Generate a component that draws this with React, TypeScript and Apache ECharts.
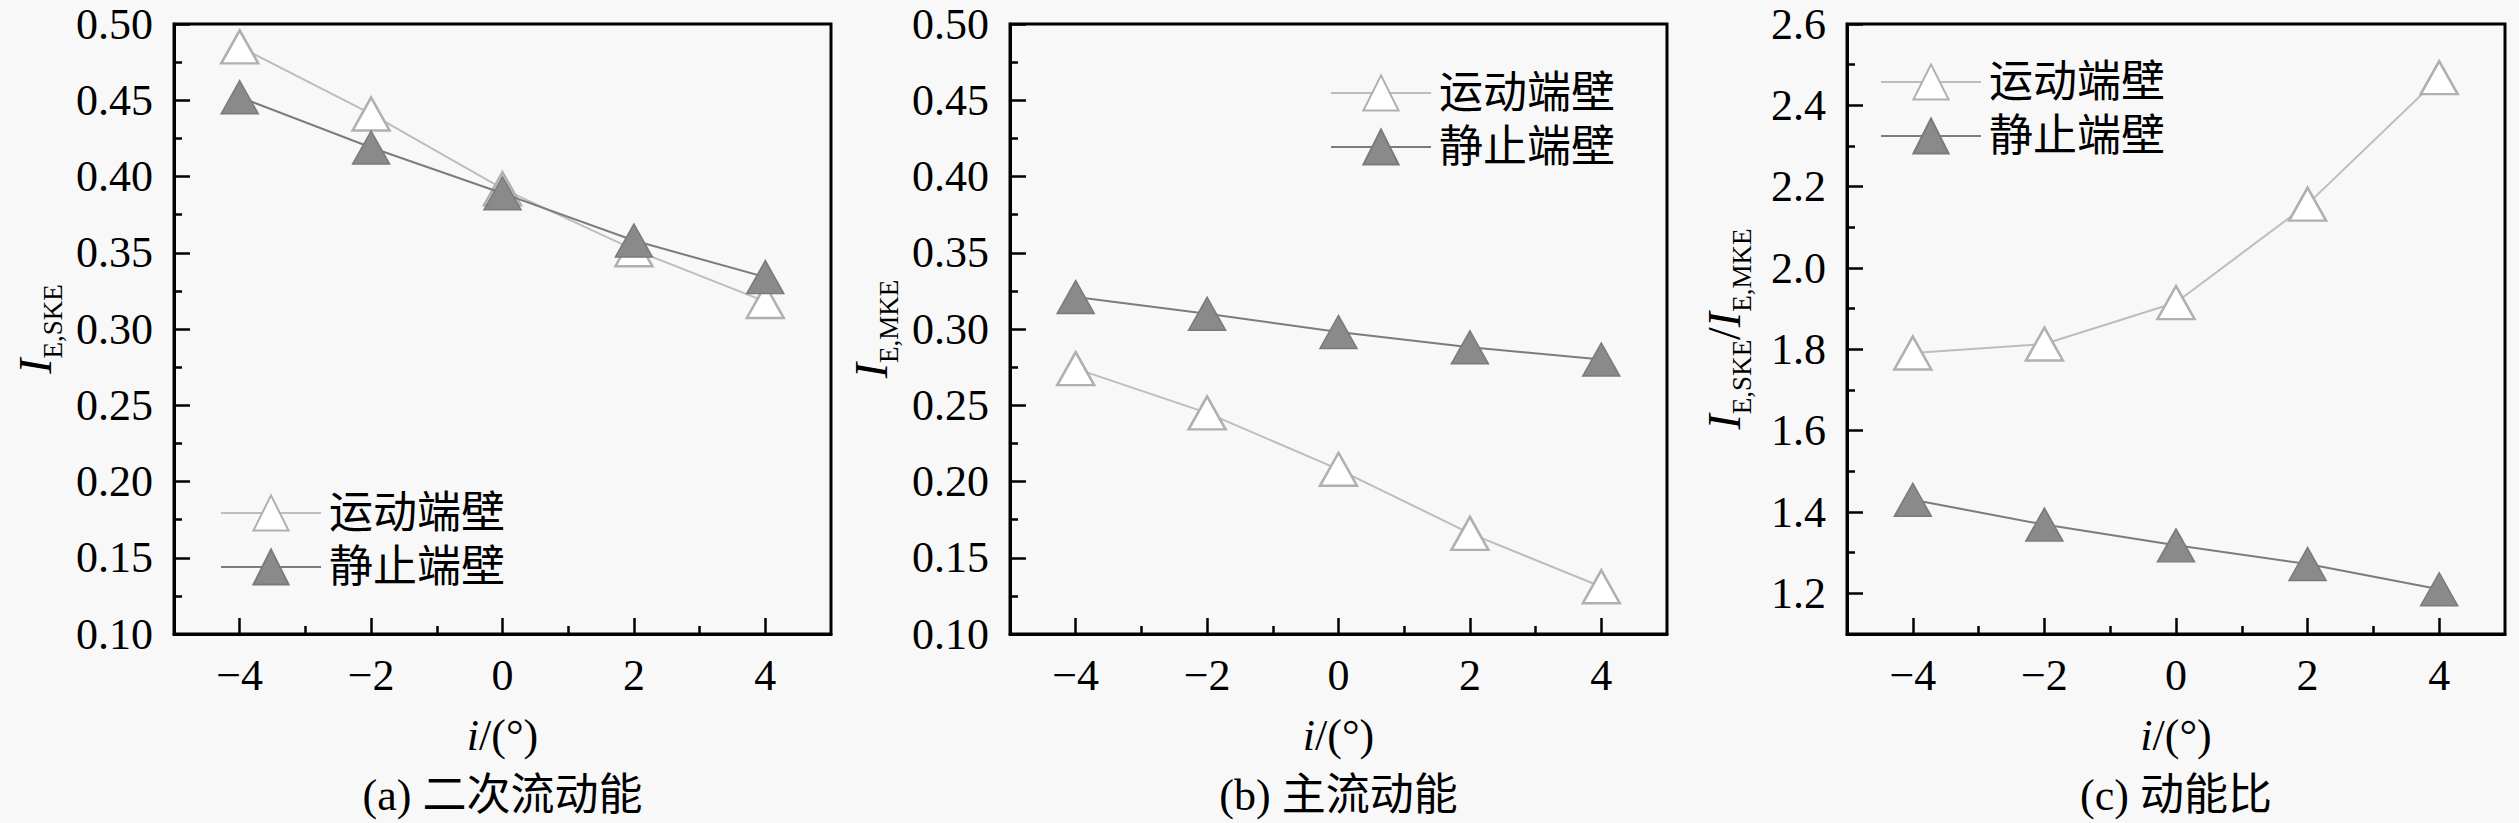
import { useEffect, useRef } from "react";
import * as echarts from "echarts";

// ---------- data ----------
const X_VALUES = [-4, -2, 0, 2, 4];
const X_MAJOR_TICKS = [-4, -2, 0, 2, 4];
const X_MINOR_TICKS = [-3, -1, 1, 3];
const X_MIN = -5;
const X_MAX = 5;

const SERIES_NAMES = ["运动端壁", "静止端壁"];

const SKE_MOVING = [0.485, 0.441, 0.392, 0.352, 0.318];
const SKE_STATIC = [0.452, 0.419, 0.389, 0.358, 0.334];

const MKE_MOVING = [0.274, 0.245, 0.208, 0.166, 0.131];
const MKE_STATIC = [0.321, 0.31, 0.298, 0.288, 0.28];

const RATIO_MOVING = [1.791, 1.813, 1.915, 2.157, 2.468];
const RATIO_STATIC = [1.43, 1.369, 1.318, 1.272, 1.21];

const Y_TICKS_AB = [0.1, 0.15, 0.2, 0.25, 0.3, 0.35, 0.4, 0.45, 0.5];
const Y_MINOR_AB = [0.125, 0.175, 0.225, 0.275, 0.325, 0.375, 0.425, 0.475];
const Y_TICKS_C = [1.2, 1.4, 1.6, 1.8, 2.0, 2.2, 2.4, 2.6];
const Y_MINOR_C = [1.3, 1.5, 1.7, 1.9, 2.1, 2.3, 2.5];

const CAPTIONS = ["(a) 二次流动能", "(b) 主流动能", "(c) 动能比"];
const X_NAME = "{i|i}{n|/(°)}";
const Y_NAMES = [
  "{i|I}{s|E,SKE}",
  "{i|I}{s|E,MKE}",
  "{i|I}{s|E,SKE}{n|/}{i|I}{s|E,MKE}",
];

// ---------- style ----------
const FONT = "Liberation Serif";
const CJK_FONT = "Liberation Serif, Noto Sans CJK SC, sans-serif";
const BG = "#f8f8f8";
const MOVING_LINE = "#bdbdbd";
const STATIC_LINE = "#7c7c7c";
const STATIC_FILL = "#8a8a8a";

const nameRich = {
  i: { fontFamily: FONT, fontStyle: "italic", fontSize: 46, lineHeight: 46, padding: [0, 0, 8, 0], verticalAlign: "bottom", color: "#000" },
  n: { fontFamily: FONT, fontSize: 46, lineHeight: 46, padding: [0, 0, 8, 0], verticalAlign: "bottom", color: "#000" },
  s: { fontFamily: FONT, fontSize: 27, lineHeight: 27, verticalAlign: "bottom", color: "#000" },
};

const xNameRich = {
  i: { fontFamily: FONT, fontStyle: "italic", fontSize: 44, color: "#000" },
  n: { fontFamily: FONT, fontSize: 44, color: "#000" },
};

const PANELS = [
  {
    left: 174, width: 657, yMin: 0.1, yMax: 0.5, yTicks: Y_TICKS_AB, yMinor: Y_MINOR_AB, dec: 2,
    nameGap: 108, moving: SKE_MOVING, stat: SKE_STATIC, legendLeft: 220, legendTop: 491,
  },
  {
    left: 1010, width: 657, yMin: 0.1, yMax: 0.5, yTicks: Y_TICKS_AB, yMinor: Y_MINOR_AB, dec: 2,
    nameGap: 108, moving: MKE_MOVING, stat: MKE_STATIC, legendLeft: 1330, legendTop: 71,
  },
  {
    left: 1847, width: 658, yMin: 1.1, yMax: 2.6, yTicks: Y_TICKS_C, yMinor: Y_MINOR_C, dec: 1,
    nameGap: 92, moving: RATIO_MOVING, stat: RATIO_STATIC, legendLeft: 1880, legendTop: 60,
  },
];
const GRID_TOP = 24;
const GRID_HEIGHT = 610;

function buildOption() {
  const grid: any[] = [];
  const xAxis: any[] = [];
  const yAxis: any[] = [];
  const series: any[] = [];
  const legend: any[] = [];
  const graphic: any[] = [];

  PANELS.forEach((p, k) => {
    grid.push({
      left: p.left, top: GRID_TOP, width: p.width, height: GRID_HEIGHT,
      show: true, borderColor: "#000", borderWidth: 3, backgroundColor: "transparent",
      containLabel: false,
    });
    // main x axis
    xAxis.push({
      type: "value", gridIndex: k, min: X_MIN, max: X_MAX, position: "bottom",
      name: X_NAME, nameLocation: "middle", nameGap: 79,
      nameTextStyle: { rich: xNameRich },
      axisLine: { show: true, onZero: false, lineStyle: { color: "#000", width: 3 } },
      axisTick: { show: true, inside: true, length: 16, customValues: X_MAJOR_TICKS, lineStyle: { color: "#000", width: 2.5 } },
      axisLabel: {
        show: true, margin: 19, customValues: X_MAJOR_TICKS, color: "#000",
        fontFamily: FONT, fontSize: 44,
        formatter: (v: number) => String(v).replace("-", "\u2212"),
      },
      splitLine: { show: false },
    });
    // minor x ticks
    xAxis.push({
      type: "value", gridIndex: k, min: X_MIN, max: X_MAX, position: "bottom",
      axisLine: { show: false, onZero: false },
      axisTick: { show: true, inside: true, length: 8, customValues: X_MINOR_TICKS, lineStyle: { color: "#000", width: 2.5 } },
      axisLabel: { show: false },
      splitLine: { show: false },
    });
    // main y axis
    yAxis.push({
      type: "value", gridIndex: k, min: p.yMin, max: p.yMax, position: "left",
      name: Y_NAMES[k], nameLocation: "middle", nameGap: p.nameGap,
      nameTextStyle: { rich: nameRich },
      axisLine: { show: true, onZero: false, lineStyle: { color: "#000", width: 3 } },
      axisTick: { show: true, inside: true, length: 16, customValues: p.yTicks, lineStyle: { color: "#000", width: 2.5 } },
      axisLabel: {
        show: true, margin: 21, customValues: p.yTicks, color: "#000",
        fontFamily: FONT, fontSize: 44,
        formatter: (v: number) => v.toFixed(p.dec),
      },
      splitLine: { show: false },
    });
    // minor y ticks
    yAxis.push({
      type: "value", gridIndex: k, min: p.yMin, max: p.yMax, position: "left",
      axisLine: { show: false, onZero: false },
      axisTick: { show: true, inside: true, length: 8, customValues: p.yMinor, lineStyle: { color: "#000", width: 2.5 } },
      axisLabel: { show: false },
      splitLine: { show: false },
    });

    const xIdx = k * 2;
    const yIdx = k * 2;
    series.push({
      name: SERIES_NAMES[0], type: "line", xAxisIndex: xIdx, yAxisIndex: yIdx,
      data: X_VALUES.map((x, i) => [x, p.moving[i]]),
      symbol: "triangle", symbolSize: [37, 33],
      lineStyle: { color: MOVING_LINE, width: 2 },
      itemStyle: { color: "#ffffff", borderColor: "#b0b0b0", borderWidth: 2.5 },
      z: 3,
    });
    series.push({
      name: SERIES_NAMES[1], type: "line", xAxisIndex: xIdx, yAxisIndex: yIdx,
      data: X_VALUES.map((x, i) => [x, p.stat[i]]),
      symbol: "triangle", symbolSize: [37, 33],
      lineStyle: { color: STATIC_LINE, width: 2 },
      itemStyle: { color: STATIC_FILL, borderColor: "#7a7a7a", borderWidth: 1.5 },
      z: 4,
    });

    legend.push({
      data: SERIES_NAMES, orient: "vertical", left: p.legendLeft, top: p.legendTop,
      padding: 0, itemWidth: 100, itemHeight: 44, itemGap: 10,
      selectedMode: false,
      textStyle: { fontFamily: CJK_FONT, fontSize: 44, color: "#000", lineHeight: 44, padding: [0, 0, 0, 3] },
    });

    graphic.push({
      type: "text",
      x: p.left + p.width / 2,
      y: 795,
      style: {
        text: CAPTIONS[k], fontFamily: CJK_FONT, fontSize: 44, fill: "#000",
        textAlign: "center", textVerticalAlign: "middle",
      },
    });
  });

  return {
    animation: false,
    backgroundColor: BG,
    grid, xAxis, yAxis, series, legend, graphic,
  };
}

export default function App() {
  const ref = useRef<HTMLDivElement>(null);
  useEffect(() => {
    if (!ref.current) return;
    const chart = echarts.init(ref.current, undefined, { renderer: "svg" });
    chart.setOption(buildOption() as any);
    return () => chart.dispose();
  }, []);
  return (
    <div
      ref={ref}
      style={{ position: "fixed", left: 0, top: 0, width: 2519, height: 823 }}
    />
  );
}
